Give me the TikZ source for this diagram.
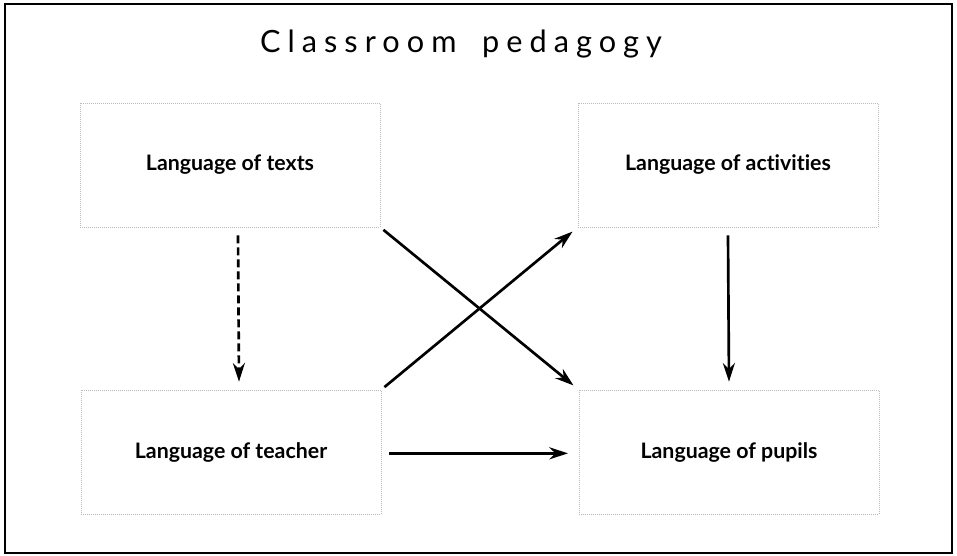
\documentclass[tikz,border=0pt]{standalone}
\usepackage{fontspec}
\setmainfont{Lato}[Ligatures=NoCommon]
\usepackage{tikz}
\usetikzlibrary{arrows.meta}
\tikzstyle{lang} = [draw=gray!55, densely dotted, line width=0.5pt, minimum width=225pt, minimum height=93pt, font=\fontsize{16}{18}\selectfont\bfseries]
\tikzstyle{link} = [line width=2pt, -{Stealth[length=14pt,width=9pt]}]

\begin{document}
\begin{tikzpicture}[x=0.75pt,y=-0.75pt]
			\useasboundingbox (0,0) rectangle (957,556);
			\draw[line width=1.5pt] (5,4) rectangle (952,553);
			\node (title) at (461,44) {\fontsize{23}{26}\selectfont\addfontfeature{LetterSpace=23}Classroom\hspace{8pt} pedagogy};
			\node[lang] (texts) at (230,165) {Language of texts};
			\node[lang] (activities) at (728,165) {Language of activities};
			\node[lang] (teacher) at (231,452) {Language of teacher};
			\node[lang] (pupils) at (729,452) {Language of pupils};
			\draw[link,dashed,dash pattern=on 6pt off 3pt] ([xshift=6pt]texts.south) ++(0,-6pt) -- ([xshift=6pt,yshift=6pt]teacher.north);
			\draw[link] ([yshift=-6pt]activities.south) -- ([yshift=6pt]pupils.north);
			\draw[link,shorten <=3pt,shorten >=5pt] (texts.south east) -- (pupils.north west);
			\draw[link,shorten <=3pt,shorten >=5pt] (teacher.north east) -- (activities.south west);
			\draw[link,shorten <=6pt,shorten >=8pt] ([yshift=-1pt]teacher.east) -- ([yshift=-1pt]pupils.west);
		\end{tikzpicture}
\end{document}
